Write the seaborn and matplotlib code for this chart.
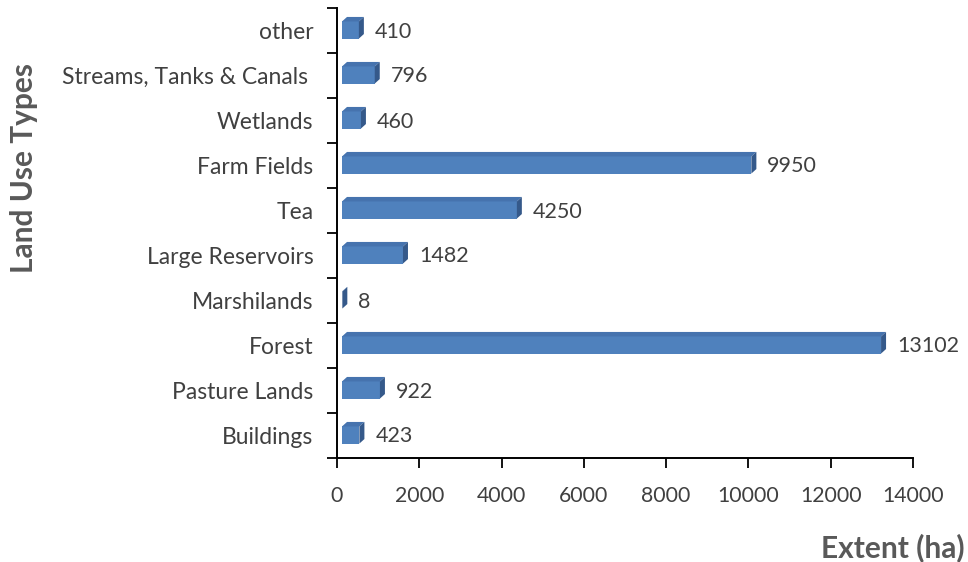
import matplotlib
matplotlib.use("Agg")
import matplotlib.pyplot as plt
from matplotlib.patches import Polygon
from matplotlib.transforms import ScaledTranslation
import seaborn as sns
import pandas as pd

# Land use extent (ha), listed top to bottom
categories = ["other", "Streams, Tanks & Canals ", "Wetlands", "Farm Fields", "Tea",
              "Large Reservoirs", "Marshilands", "Forest", "Pasture Lands", "Buildings"]
extent_ha = [410, 796, 460, 9950, 4250, 1482, 8, 13102, 922, 423]
x_ticks = [0, 2000, 4000, 6000, 8000, 10000, 12000, 14000]

FRONT = "#4F81BD"
TOP = "#4673AE"
SIDE = "#35598A"
TEXT = "#404040"
LABEL = "#595959"
DPI = 100

sns.set_theme(style="white")
plt.rcParams["font.family"] = ["Lato", "DejaVu Sans"]

fig = plt.figure(figsize=(9.68, 5.62), dpi=DPI)
ax = fig.add_axes([337 / 968, (562 - 458) / 562, 576 / 968, 450 / 562])

df = pd.DataFrame({"type": categories, "extent": extent_ha})
sns.barplot(data=df, x="extent", y="type", orient="h", color=FRONT,
            saturation=1, width=0.38, ax=ax, zorder=3)

ax.set_xlim(0, 14000)
ax.set_ylim(len(categories) - 0.5, -0.5)

# 3-D box look: shift the front face, then add top and right faces
front_dx, depth_x, depth_y = 5, 5, 4.5
shift = ScaledTranslation(front_dx / DPI, 0.5 / DPI, fig.dpi_scale_trans)
inv = ax.transData.inverted()
for patch in ax.patches:
    x0, y0 = patch.get_x(), patch.get_y()
    w, h = patch.get_width(), patch.get_height()
    patch.set_transform(ax.transData + shift)
    patch.set_edgecolor("none")
    (px0, py_a), (px1, py_b) = ax.transData.transform([(x0, y0), (x0 + w, y0 + h)])
    px0 += front_dx
    px1 += front_dx
    ylo, yhi = min(py_a, py_b) + 0.5, max(py_a, py_b) + 0.5
    side = [(px1, ylo), (px1, yhi), (px1 + depth_x, yhi + depth_y), (px1 + depth_x, ylo + depth_y)]
    top = [(px0, yhi), (px1, yhi), (px1 + depth_x, yhi + depth_y), (px0 + depth_x, yhi + depth_y)]
    ax.add_patch(Polygon(inv.transform(top), closed=True, facecolor=TOP,
                         edgecolor="none", zorder=4))
    ax.add_patch(Polygon(inv.transform(side), closed=True, facecolor=SIDE,
                         edgecolor="none", zorder=4))

for i, v in enumerate(extent_ha):
    ax.annotate(f"{v}", xy=(v, i), xytext=(21, -1), textcoords="offset pixels",
                ha="left", va="center", fontsize=15.5, color=TEXT)

ax.set_xticks(x_ticks)
ax.set_xticklabels([str(t) for t in x_ticks])
ax.set_yticks(range(len(categories)))
ax.set_yticklabels(categories)
ax.set_yticks([i - 0.5 for i in range(len(categories) + 1)], minor=True)
ax.tick_params(axis="x", which="major", length=7, width=1.3, direction="out",
               color="black", labelsize=15.3, labelcolor=TEXT, pad=13, bottom=True)
ax.tick_params(axis="y", which="major", length=0, labelsize=16.5, labelcolor=TEXT, pad=17)
ax.tick_params(axis="y", which="minor", length=7, width=1.3, direction="out",
               color="black", left=True)
ax.set_xlabel("")
ax.set_ylabel("")
for s in ["top", "right"]:
    ax.spines[s].set_visible(False)
for s in ["left", "bottom"]:
    ax.spines[s].set_color("black")
    ax.spines[s].set_linewidth(1.4)
ax.grid(False)

fig.text(24 / 968, 1 - 168 / 562, "Land Use Types", rotation=90, ha="center", va="center",
         fontsize=21.5, fontweight="bold", color=LABEL)
fig.text(965 / 968, 1 - 548 / 562, "Extent (ha)", ha="right", va="center",
         fontsize=21.5, fontweight="bold", color=LABEL)

fig.savefig("out.png", dpi=DPI)
